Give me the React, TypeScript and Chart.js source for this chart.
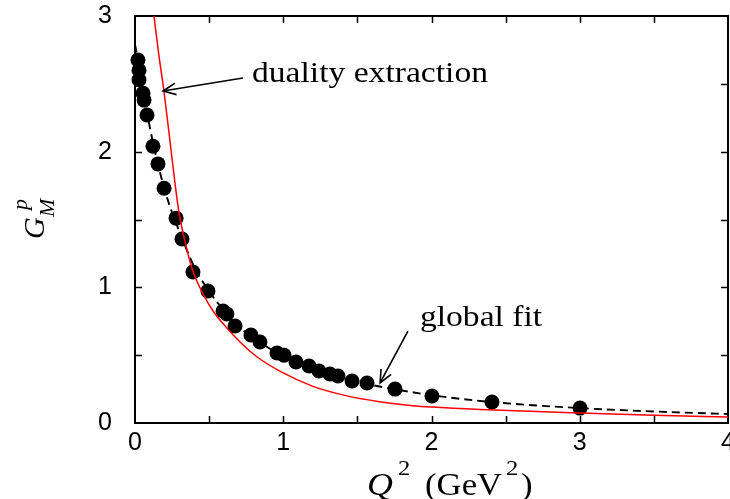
import React, { useEffect, useRef } from "react";
import { Chart, registerables } from "chart.js";

Chart.register(...registerables);

// Data points (Q^2 in GeV^2, G_M^p)
const pointsQ2 = [0.02, 0.027, 0.027, 0.054, 0.061, 0.081, 0.121, 0.155, 0.196, 0.277, 0.317, 0.391, 0.492, 0.594, 0.62, 0.675, 0.782, 0.843, 0.958, 1.005, 1.086, 1.174, 1.241, 1.315, 1.369, 1.464, 1.565, 1.754, 2.003, 2.408, 3.002];
const pointsGM = [2.676, 2.6, 2.53, 2.43, 2.38, 2.27, 2.04, 1.91, 1.73, 1.51, 1.356, 1.113, 0.973, 0.826, 0.803, 0.715, 0.649, 0.597, 0.516, 0.5, 0.45, 0.42, 0.383, 0.361, 0.346, 0.31, 0.295, 0.25, 0.199, 0.155, 0.11];

// Global fit (dashed black)
const fitQ2 = [0, 0.02, 0.05, 0.1, 0.15, 0.2, 0.25, 0.3, 0.4, 0.5, 0.6, 0.7, 0.8, 0.9, 1.0, 1.2, 1.4, 1.6, 1.8, 2.0, 2.4, 3.0, 3.5, 4.0];
const fitGM = [2.79, 2.68, 2.48, 2.18, 1.93, 1.72, 1.55, 1.41, 1.15, 0.97, 0.83, 0.71, 0.63, 0.555, 0.5, 0.405, 0.335, 0.28, 0.24, 0.205, 0.155, 0.11, 0.085, 0.066];

// Duality extraction (red)
const dualQ2 = [0.128, 0.16, 0.196, 0.24, 0.28, 0.3, 0.35, 0.39, 0.46, 0.53, 0.62, 0.71, 0.82, 0.98, 1.2, 1.43, 1.65, 1.875, 2.0, 2.33, 3.0, 3.5, 4.0];
const dualGM = [3.0, 2.72, 2.44, 2.04, 1.68, 1.53, 1.28, 1.12, 0.95, 0.82, 0.7, 0.595, 0.49, 0.38, 0.27, 0.2, 0.157, 0.128, 0.118, 0.1, 0.074, 0.058, 0.044];

// Axis ticks
const xTickMarks = [0.5, 1, 1.5, 2, 2.5, 3, 3.5];
const yTickMarks = [0.5, 1, 1.5, 2, 2.5];

// Annotations (data coordinates)
const dualityLabel = { text: "duality extraction", x: 0.789, y: 2.513 };
const dualityArrow = { fromX: 0.728, fromY: 2.543, toX: 0.189, toY: 2.447 };
const fitLabel = { text: "global fit", x: 1.922, y: 0.715 };
const fitArrow = { fromX: 1.841, fromY: 0.678, toX: 1.653, toY: 0.295 };

const SERIF = "'Liberation Serif', 'Times New Roman', serif";
const STRETCH = 1.12;

function drawArrow(ctx: CanvasRenderingContext2D, x1: number, y1: number, x2: number, y2: number) {
  const ang = Math.atan2(y2 - y1, x2 - x1);
  const head = 14;
  const spread = 0.42;
  ctx.beginPath();
  ctx.moveTo(x1, y1);
  ctx.lineTo(x2, y2);
  ctx.moveTo(x2 - head * Math.cos(ang - spread), y2 - head * Math.sin(ang - spread));
  ctx.lineTo(x2, y2);
  ctx.lineTo(x2 - head * Math.cos(ang + spread), y2 - head * Math.sin(ang + spread));
  ctx.stroke();
}

function stretchedText(ctx: CanvasRenderingContext2D, text: string, x: number, y: number, font: string) {
  ctx.save();
  ctx.font = font;
  ctx.translate(x, y);
  ctx.scale(STRETCH, 1);
  ctx.textAlign = "left";
  ctx.textBaseline = "alphabetic";
  ctx.fillText(text, 0, 0);
  ctx.restore();
}

const overlayPlugin = {
  id: "overlay",
  beforeDatasetsDraw(chart: any) {
    const { ctx, chartArea } = chart;
    const xs = chart.scales.x;
    const ys = chart.scales.y;
    const { left, right, top, bottom } = chartArea;
    ctx.save();
    ctx.strokeStyle = "#000";
    ctx.lineWidth = 2;
    ctx.strokeRect(left, top, right - left, bottom - top);
    ctx.lineWidth = 1.5;
    const tl = 7;
    ctx.beginPath();
    for (const v of xTickMarks) {
      const px = Math.round(xs.getPixelForValue(v)) + 0.5;
      ctx.moveTo(px, bottom);
      ctx.lineTo(px, bottom - tl);
      ctx.moveTo(px, top);
      ctx.lineTo(px, top + tl);
    }
    for (const v of yTickMarks) {
      const py = Math.round(ys.getPixelForValue(v)) + 0.5;
      ctx.moveTo(left, py);
      ctx.lineTo(left + tl, py);
      ctx.moveTo(right, py);
      ctx.lineTo(right - tl, py);
    }
    ctx.stroke();
    ctx.restore();
  },
  afterDraw(chart: any) {
    const { ctx } = chart;
    const xs = chart.scales.x;
    const ys = chart.scales.y;
    ctx.save();
    ctx.fillStyle = "#000";
    ctx.strokeStyle = "#000";
    ctx.lineWidth = 1.6;

    // annotations
    stretchedText(ctx, dualityLabel.text, xs.getPixelForValue(dualityLabel.x), ys.getPixelForValue(dualityLabel.y), `30px ${SERIF}`);
    drawArrow(ctx, xs.getPixelForValue(dualityArrow.fromX), ys.getPixelForValue(dualityArrow.fromY), xs.getPixelForValue(dualityArrow.toX), ys.getPixelForValue(dualityArrow.toY));
    stretchedText(ctx, fitLabel.text, xs.getPixelForValue(fitLabel.x), ys.getPixelForValue(fitLabel.y), `30px ${SERIF}`);
    drawArrow(ctx, xs.getPixelForValue(fitArrow.fromX), ys.getPixelForValue(fitArrow.fromY), xs.getPixelForValue(fitArrow.toX), ys.getPixelForValue(fitArrow.toY));

    // x axis title: Q^2 (GeV^2)
    const base = 495;
    stretchedText(ctx, "Q", 367, base, `italic 32px ${SERIF}`);
    stretchedText(ctx, "2", 398, base - 20, `22px ${SERIF}`);
    stretchedText(ctx, "(GeV", 425, base, `31px ${SERIF}`);
    stretchedText(ctx, "2", 506, base - 20, `22px ${SERIF}`);
    stretchedText(ctx, ")", 521, base, `31px ${SERIF}`);

    // y axis title: G_M^p (rotated)
    ctx.save();
    ctx.translate(44, 239);
    ctx.rotate(-Math.PI / 2);
    ctx.textBaseline = "alphabetic";
    ctx.textAlign = "left";
    ctx.font = `italic 30px ${SERIF}`;
    ctx.fillText("G", 0, 0);
    ctx.font = `italic 22px ${SERIF}`;
    ctx.fillText("M", 22, 10);
    ctx.fillText("p", 29, -17);
    ctx.restore();

    ctx.restore();
  },
};

export default function App() {
  const canvasRef = useRef<HTMLCanvasElement | null>(null);

  useEffect(() => {
    const canvas = canvasRef.current;
    if (!canvas) return;
    const pointData = pointsQ2.map((x, i) => ({ x, y: pointsGM[i] }));
    const fitData = fitQ2.map((x, i) => ({ x, y: fitGM[i] }));
    const dualData = dualQ2.map((x, i) => ({ x, y: dualGM[i] }));

    const chart = new Chart(canvas, {
      type: "scatter",
      data: {
        datasets: [
          {
            label: "duality extraction",
            data: dualData,
            showLine: true,
            borderColor: "#ff0000",
            borderWidth: 1.5,
            pointRadius: 0,
            cubicInterpolationMode: "monotone",
            order: 0,
          },
          {
            label: "data",
            data: pointData,
            showLine: false,
            backgroundColor: "#000",
            borderColor: "#000",
            pointRadius: 7.5,
            pointBorderWidth: 0,
            clip: false,
            order: 1,
          },
          {
            label: "global fit",
            data: fitData,
            showLine: true,
            borderColor: "#000",
            borderWidth: 1.9,
            borderDash: [8, 5],
            pointRadius: 0,
            cubicInterpolationMode: "monotone",
            order: 2,
          },
        ],
      } as any,
      options: {
        animation: false,
        responsive: false,
        devicePixelRatio: 1,
        layout: { autoPadding: false, padding: { top: 16, right: 2, left: 0, bottom: 0 } },
        plugins: {
          legend: { display: false },
          tooltip: { enabled: false },
        },
        scales: {
          x: {
            type: "linear",
            min: 0,
            max: 4,
            grid: { display: false, drawTicks: false },
            border: { display: false },
            ticks: {
              stepSize: 1,
              color: "#000",
              padding: 5,
              maxRotation: 0,
              autoSkip: false,
              font: { family: "'Liberation Sans', Arial, sans-serif", size: 25 },
            },
            afterFit: (scale: any) => {
              scale.height = 76;
              scale.paddingLeft = 0;
              scale.paddingRight = 0;
            },
          },
          y: {
            type: "linear",
            min: 0,
            max: 3,
            grid: { display: false, drawTicks: false },
            border: { display: false },
            ticks: {
              stepSize: 1,
              color: "#000",
              padding: 23,
              font: { family: "'Liberation Sans', Arial, sans-serif", size: 25 },
            },
            afterFit: (scale: any) => {
              scale.width = 135;
              scale.paddingTop = 0;
              scale.paddingBottom = 0;
            },
          },
        },
      } as any,
      plugins: [overlayPlugin],
    });
    return () => chart.destroy();
  }, []);

  return (
    <div style={{ position: "fixed", left: 0, top: 0, width: 730, height: 499, overflow: "hidden", background: "#fff" }}>
      <canvas ref={canvasRef} width={730} height={499} style={{ display: "block" }} />
    </div>
  );
}
